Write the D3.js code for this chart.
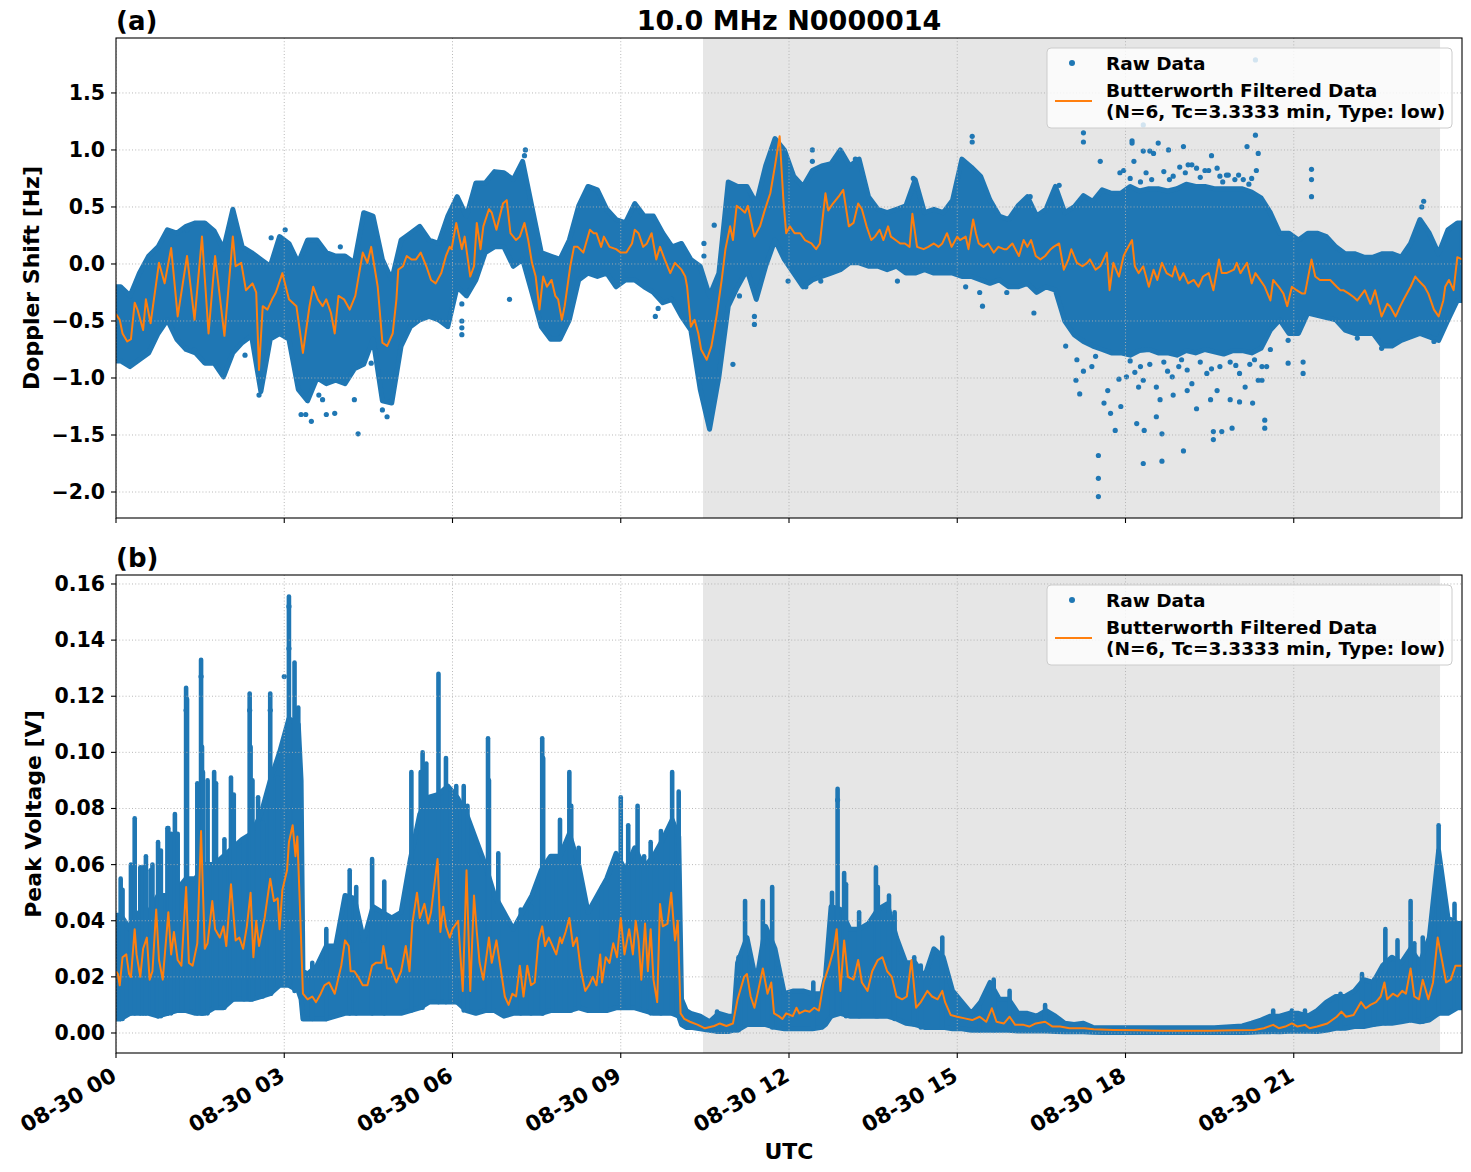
<!DOCTYPE html>
<html>
<head>
<meta charset="utf-8">
<script src="https://cdn.jsdelivr.net/npm/d3@7"></script>
<style>
body { margin: 0; background: white; }
svg text { font-family: "DejaVu Sans", sans-serif; font-weight: bold; fill: black; }
</style>
</head>
<body>
<div id="chart"></div>
<script>
// x axis in minutes after 08-30 00:00 UTC
const tickMinutes = [0, 180, 360, 540, 720, 900, 1080, 1260];
const tickLabels = ["08-30 00", "08-30 03", "08-30 06", "08-30 09", "08-30 12", "08-30 15", "08-30 18", "08-30 21"];
const shadeStart = 628, shadeEnd = 1416.5;

const dopplerTicks = [-2.0, -1.5, -1.0, -0.5, 0.0, 0.5, 1.0, 1.5];
const voltTicks = [0.00, 0.02, 0.04, 0.06, 0.08, 0.10, 0.12, 0.14, 0.16];

// raw data cloud: [minute, low edge, high edge]
const dopplerBand = [[0,-0.85,-0.20],[5,-0.85,-0.20],[15,-0.90,-0.28],[25,-0.84,-0.08],[35,-0.78,0.07],[45,-0.61,0.15],[55,-0.49,0.30],[65,-0.66,0.27],[75,-0.75,0.33],[85,-0.78,0.36],[95,-0.87,0.36],[105,-0.87,0.29],[115,-0.99,0.13],[125,-0.78,0.48],[135,-0.69,0.15],[145,-0.63,0.10],[155,-1.12,0.04],[165,-0.66,-0.02],[175,-0.61,0.24],[185,-0.66,0.18],[195,-1.10,0.01],[205,-1.20,0.21],[215,-1.00,0.21],[225,-1.05,0.10],[235,-1.02,0.07],[245,-1.05,0.07],[255,-0.92,0.01],[265,-0.88,0.45],[275,-0.66,0.42],[285,-1.20,0.04],[295,-1.22,-0.14],[305,-0.72,0.21],[315,-0.55,0.27],[325,-0.49,0.33],[335,-0.46,0.21],[345,-0.49,0.18],[355,-0.55,0.42],[365,-0.20,0.59],[375,-0.28,0.42],[385,-0.14,0.71],[395,0.10,0.71],[405,0.15,0.81],[415,0.15,0.80],[425,-0.02,0.74],[435,0.04,0.90],[445,-0.25,0.50],[455,-0.55,0.10],[465,-0.66,0.07],[475,-0.66,0.04],[485,-0.49,0.21],[495,-0.14,0.51],[505,-0.08,0.68],[515,-0.11,0.65],[525,-0.08,0.48],[535,-0.20,0.39],[545,-0.14,0.36],[555,-0.14,0.53],[565,-0.20,0.42],[575,-0.25,0.42],[585,-0.34,0.27],[595,-0.31,0.15],[605,-0.46,0.18],[615,-0.58,0.04],[625,-1.10,-0.02],[635,-1.45,-0.28],[645,-0.99,-0.08],[655,-0.37,0.72],[665,-0.20,0.68],[675,-0.05,0.68],[685,-0.31,0.53],[695,-0.02,0.86],[705,0.21,1.10],[715,0.04,1.00],[725,-0.08,0.77],[735,-0.20,0.68],[745,-0.14,0.82],[755,-0.11,0.86],[765,-0.08,0.88],[775,-0.05,1.00],[785,0.01,0.86],[795,0.01,0.92],[805,-0.02,0.59],[815,-0.02,0.48],[825,-0.05,0.45],[835,-0.02,0.48],[845,-0.08,0.51],[855,-0.08,0.74],[865,-0.05,0.45],[875,-0.08,0.48],[885,-0.08,0.45],[895,-0.08,0.56],[905,-0.11,0.92],[915,-0.11,0.85],[925,-0.14,0.77],[935,-0.17,0.56],[945,-0.14,0.42],[955,-0.20,0.39],[965,-0.20,0.51],[975,-0.17,0.59],[985,-0.25,0.42],[995,-0.20,0.48],[1005,-0.23,0.68],[1015,-0.50,0.45],[1025,-0.62,0.50],[1035,-0.68,0.60],[1045,-0.72,0.55],[1055,-0.75,0.65],[1065,-0.78,0.62],[1075,-0.78,0.62],[1085,-0.80,0.68],[1095,-0.76,0.64],[1105,-0.75,0.66],[1115,-0.78,0.66],[1125,-0.78,0.64],[1135,-0.80,0.66],[1145,-0.76,0.70],[1155,-0.78,0.68],[1165,-0.75,0.68],[1175,-0.77,0.66],[1185,-0.79,0.66],[1195,-0.76,0.66],[1205,-0.76,0.66],[1215,-0.78,0.63],[1225,-0.74,0.58],[1235,-0.58,0.45],[1245,-0.49,0.27],[1255,-0.61,0.27],[1265,-0.61,0.21],[1275,-0.43,0.27],[1285,-0.45,0.27],[1295,-0.47,0.24],[1305,-0.49,0.15],[1315,-0.58,0.09],[1325,-0.61,0.09],[1335,-0.61,0.06],[1345,-0.61,0.06],[1355,-0.72,0.09],[1365,-0.72,0.09],[1375,-0.67,0.06],[1385,-0.64,0.18],[1395,-0.61,0.39],[1405,-0.64,0.27],[1415,-0.67,0.09],[1425,-0.49,0.30],[1435,-0.32,0.36],[1440,-0.32,0.36]];

const dopplerOutliers = [[75,-0.74],[84,-0.75],[138,-0.80],[153,-1.15],[198,-1.32],[203,-1.32],[209,-1.38],[217,-1.15],[221,-1.19],[225,-1.32],[234,-1.31],[255,-1.19],[259,-1.49],[273,-0.87],[285,-1.28],[290,-1.34],[240,0.15],[166,0.23],[181,0.30],[76,0.30],
  [370,-0.35],[370,-0.50],[370,-0.56],[370,-0.62],[421,-0.31],[438,1.0],[437,0.95],[577,-0.46],[580,-0.39],[594,-0.31],[660,-0.88],[683,-0.46],[683,-0.53],[629,0.18],[629,0.07],[640,0.34],[667,-0.28],[714,0.10],
  [745,1.0],[745,0.90],[791,0.92],[853,0.75],[916,1.12],[916,1.07],[1035,1.15],[1035,1.07],[1053,0.90],[1074,0.80],[1009,0.69],[978,0.59],[927,-0.37],[982,-0.43],[909,-0.20],[953,-0.25],[924,-0.25],[836,-0.15],[754,-0.15],[719,-0.15],[738,-0.20],
  [1016,-0.72],[1028,-0.84],[1027,-1.02],[1031,-1.14],[1035,-0.94],[1044,-0.90],[1048,-0.81],[1057,-1.22],[1061,-1.11],[1064,-1.31],[1069,-1.46],[1073,-1.01],[1075,-1.25],[1051,-1.68],[1051,-1.88],[1051,-2.04],
  [1087,1.08],[1087,1.06],[1099,0.99],[1115,1.06],[1126,1.0],[1142,1.03],[1172,0.95],[1210,1.03],[1219,1.13],[1222,0.97],[1279,0.83],[1279,0.74],[1279,0.59],[1399,0.55],[1397,0.50],[1089,0.90],[1106,0.99],[1110,0.97],[1151,0.87],[1178,0.84],[1190,0.78],[1201,0.78],[1220,0.82],[1144,0.80],[1165,0.82],[1078,0.82],[1219,1.79],[1099,1.22],
  [1096,0.72],[1108,0.74],[1121,0.81],[1131,0.77],[1138,0.85],[1147,0.87],[1156,0.84],[1169,0.82],[1181,0.77],[1188,0.78],[1197,0.74],[1206,0.74],[1215,0.75],[1085,0.75],[1102,0.80],[1127,0.74],[1160,0.76],[1184,0.72],[1212,0.70],
  [1099,-1.75],[1119,-1.73],[1142,-1.64],[1174,-1.47],[1174,-1.54],[1183,-1.47],[1194,-1.44],[1229,-1.37],[1229,-1.44],[1100,-1.46],[1119,-1.49],[1092,-1.40],[1113,-1.34],[1131,-1.15],[1156,-1.27],[1171,-1.19],[1192,-1.19],[1202,-1.21],[1216,-1.22],[1094,-1.08],[1117,-1.19],[1146,-1.11],[1226,-1.02],[1081,-0.99],[1231,-0.90],[1254,-0.67],[1254,-0.87],[1270,-0.86],[1270,-0.96],[1235,-0.75],[1354,-0.74],[1328,-0.65],[1410,-0.68],
  [1085,-0.85],[1096,-0.90],[1106,-0.88],[1121,-0.86],[1130,-0.99],[1137,-0.90],[1146,-0.93],[1160,-0.86],[1167,-0.96],[1181,-0.90],[1192,-0.86],[1202,-0.96],[1213,-0.88],[1222,-1.02],[1226,-0.90],[1099,-1.02],[1113,-1.08],[1151,-1.05],[1178,-1.11],[1208,-1.08],[1090,-0.95],[1125,-0.94],[1140,-0.84],[1172,-0.92],[1198,-0.89],[1218,-0.84]];

const dopplerFiltered = [[0,-0.44],[4,-0.49],[7,-0.61],[12,-0.68],[16,-0.66],[20,-0.34],[23,-0.40],[29,-0.58],[32,-0.31],[37,-0.52],[46,0.01],[52,-0.17],[59,0.14],[66,-0.46],[76,0.07],[84,-0.49],[92,0.24],[99,-0.61],[106,0.07],[116,-0.63],[125,0.24],[128,-0.02],[134,0.01],[139,-0.23],[146,-0.17],[150,-0.25],[153,-0.93],[157,-0.37],[162,-0.40],[167,-0.31],[171,-0.25],[178,-0.08],[185,-0.31],[193,-0.37],[200,-0.78],[207,-0.37],[211,-0.20],[216,-0.31],[221,-0.37],[225,-0.31],[230,-0.43],[234,-0.61],[238,-0.28],[244,-0.31],[250,-0.40],[256,-0.28],[264,0.10],[269,0.01],[273,0.15],[280,-0.20],[285,-0.69],[290,-0.72],[296,-0.61],[300,-0.31],[302,-0.05],[307,-0.02],[311,0.07],[316,0.04],[321,0.04],[326,0.10],[332,-0.02],[337,-0.14],[342,-0.17],[348,-0.08],[353,0.07],[357,0.15],
  [359,0.13],[364,0.36],[370,0.13],[373,0.24],[379,-0.11],[383,-0.02],[386,0.36],[390,0.13],[393,0.33],[399,0.48],[402,0.45],[407,0.30],[414,0.53],[418,0.56],[422,0.27],[428,0.21],[432,0.24],[437,0.36],[441,0.21],[445,0.01],[449,-0.11],[453,-0.40],[457,-0.11],[461,-0.20],[466,-0.14],[470,-0.28],[473,-0.31],[477,-0.49],[480,-0.37],[486,-0.02],[490,0.15],[494,0.15],[500,0.10],[507,0.30],[511,0.27],[514,0.27],[519,0.15],[522,0.24],[528,0.15],[535,0.13],[540,0.10],[546,0.10],[552,0.18],[555,0.30],[559,0.27],[564,0.15],[568,0.18],[573,0.27],[578,0.04],[582,0.15],[587,0.04],[593,-0.08],[598,0.01],[605,-0.05],[609,-0.11],[611,-0.20],[615,-0.55],[619,-0.49],[623,-0.61],[626,-0.75],[630,-0.81],[632,-0.84],[637,-0.72],[640,-0.58],[643,-0.43],[648,-0.14],[652,0.13],[657,0.33],[660,0.21],[664,0.51],[669,0.48],[673,0.45],[676,0.51],[683,0.24],[689,0.33],[694,0.47],[700,0.62],[705,0.86],[710,1.12],[714,0.56],[717,0.27],
  [721,0.33],[726,0.27],[732,0.27],[737,0.21],[744,0.18],[749,0.13],[753,0.18],[759,0.62],[762,0.47],[767,0.53],[773,0.59],[778,0.65],[784,0.33],[789,0.36],[794,0.53],[798,0.48],[803,0.33],[808,0.21],[812,0.24],[817,0.30],[821,0.21],[826,0.33],[829,0.24],[834,0.21],[839,0.18],[844,0.18],[849,0.15],[852,0.44],[857,0.15],[864,0.13],[869,0.15],[875,0.18],[880,0.15],[884,0.18],[889,0.27],[894,0.15],[900,0.24],[903,0.21],[909,0.24],[912,0.13],[917,0.39],[920,0.27],[923,0.18],[928,0.15],[933,0.18],[939,0.10],[944,0.15],[950,0.13],[953,0.13],[959,0.18],[966,0.07],[971,0.21],[975,0.15],[979,0.21],[984,0.07],[989,0.04],[994,0.07],[1000,0.13],[1003,0.15],[1009,0.18],[1014,-0.05],[1019,0.04],[1022,0.13],[1028,0.01],[1034,-0.02],[1039,0.01],[1042,0.04],[1048,-0.05],[1053,-0.02],[1060,0.10],[1063,-0.23],[1067,0.01],[1073,-0.11],[1078,0.07],
  [1081,0.12],[1087,0.21],[1090,-0.02],[1094,-0.08],[1099,-0.02],[1105,-0.20],[1110,-0.05],[1114,-0.14],[1119,0.01],[1124,-0.08],[1130,-0.11],[1133,-0.02],[1138,-0.14],[1142,-0.08],[1147,-0.17],[1153,-0.14],[1158,-0.20],[1163,-0.11],[1169,-0.08],[1174,-0.23],[1180,0.04],[1183,-0.08],[1188,-0.08],[1196,-0.05],[1199,0.01],[1203,-0.08],[1210,0.01],[1215,-0.17],[1219,-0.08],[1224,-0.14],[1229,-0.20],[1235,-0.32],[1238,-0.14],[1244,-0.20],[1249,-0.26],[1253,-0.37],[1258,-0.20],[1263,-0.23],[1269,-0.26],[1272,-0.26],[1279,0.04],[1283,-0.11],[1288,-0.14],[1294,-0.14],[1299,-0.14],[1306,-0.20],[1310,-0.23],[1313,-0.23],[1319,-0.26],[1324,-0.29],[1328,-0.32],[1336,-0.23],[1339,-0.29],[1342,-0.35],[1347,-0.23],[1354,-0.46],[1360,-0.35],[1363,-0.37],[1369,-0.46],[1374,-0.37],[1377,-0.32],[1385,-0.20],[1390,-0.11],[1393,-0.14],[1400,-0.20],[1404,-0.26],[1410,-0.40],[1415,-0.46],[1420,-0.32],[1422,-0.20],[1426,-0.14],[1431,-0.23],[1435,0.06],[1440,0.04]];

const voltBand = [[0,0.005,0.042],[5,0.005,0.042],[15,0.007,0.037],[25,0.007,0.043],[35,0.007,0.043],[45,0.006,0.049],[55,0.007,0.049],[65,0.008,0.051],[75,0.008,0.055],[85,0.007,0.055],[95,0.007,0.060],[105,0.009,0.060],[115,0.009,0.063],[125,0.012,0.066],[135,0.012,0.069],[145,0.012,0.071],[155,0.013,0.078],[165,0.014,0.090],[175,0.017,0.100],[185,0.017,0.112],[195,0.015,0.110],[198,0.012,0.090],[200,0.005,0.022],[205,0.005,0.021],[215,0.005,0.024],[225,0.005,0.031],[235,0.006,0.031],[245,0.007,0.049],[255,0.007,0.048],[265,0.007,0.033],[275,0.007,0.045],[285,0.007,0.043],[295,0.007,0.041],[305,0.007,0.043],[315,0.008,0.062],[325,0.009,0.078],[335,0.011,0.084],[345,0.011,0.085],[355,0.011,0.088],[365,0.011,0.084],[375,0.008,0.078],[385,0.007,0.069],[395,0.008,0.060],[405,0.008,0.049],[415,0.006,0.043],[425,0.007,0.037],[435,0.007,0.043],[445,0.007,0.049],[455,0.007,0.058],[465,0.008,0.063],[475,0.008,0.063],[485,0.008,0.071],[495,0.009,0.060],[505,0.008,0.043],[515,0.008,0.049],[525,0.008,0.055],[535,0.009,0.064],[545,0.009,0.058],[555,0.009,0.066],[565,0.008,0.059],[575,0.007,0.063],[585,0.007,0.069],[595,0.007,0.076],[602,0.006,0.070],[605,0.003,0.012],[610,0.002,0.008],[615,0.002,0.007],[625,0.0015,0.006],[635,0.001,0.004],[645,0.0005,0.007],[655,0.0005,0.006],[661,0.001,0.006],[665,0.001,0.025],[675,0.003,0.034],[685,0.003,0.018],[695,0.003,0.038],[705,0.002,0.030],[715,0.0015,0.014],[725,0.0015,0.015],[735,0.0015,0.015],[745,0.0015,0.014],[755,0.002,0.014],[759,0.003,0.020],[765,0.006,0.045],[775,0.007,0.044],[785,0.006,0.037],[795,0.006,0.037],[805,0.006,0.039],[815,0.006,0.044],[825,0.006,0.046],[835,0.005,0.034],[845,0.0035,0.025],[855,0.003,0.025],[865,0.002,0.020],[875,0.002,0.030],[885,0.002,0.027],[895,0.0015,0.015],[905,0.0015,0.011],[915,0.001,0.007],[925,0.001,0.011],[935,0.001,0.018],[945,0.001,0.012],[955,0.001,0.012],[965,0.0007,0.007],[975,0.0007,0.007],[985,0.0007,0.006],[995,0.0007,0.008],[1005,0.0005,0.006],[1015,0.0004,0.0035],[1025,0.0004,0.003],[1035,0.0004,0.0035],[1045,0.0003,0.002],[1055,0.0002,0.0019],[1095,0.0002,0.0019],[1135,0.0002,0.0019],[1175,0.0002,0.0019],[1205,0.0002,0.0025],[1215,0.0003,0.0035],[1225,0.0004,0.0046],[1235,0.0005,0.006],[1245,0.0004,0.006],[1255,0.0006,0.007],[1265,0.0006,0.007],[1275,0.0006,0.006],[1285,0.0005,0.008],[1295,0.001,0.011],[1305,0.0017,0.013],[1315,0.0017,0.013],[1325,0.0023,0.015],[1335,0.0023,0.019],[1345,0.003,0.018],[1355,0.0035,0.024],[1365,0.0035,0.027],[1375,0.004,0.025],[1385,0.0046,0.030],[1395,0.004,0.025],[1405,0.0046,0.034],[1415,0.007,0.065],[1425,0.007,0.041],[1435,0.009,0.039],[1440,0.009,0.039]];

// narrow columns of raw points rising above the cloud: [minute, top value]
const voltSpikes = [[5,0.055],[7,0.051],[16,0.060],[20,0.0765],[26,0.059],[29,0.059],[32,0.063],[37,0.058],[39,0.060],[45,0.068],[48,0.065],[55,0.073],[56,0.073],[59,0.071],[63,0.078],[66,0.071],[75,0.123],[76,0.119],[87,0.089],[91,0.133],[92,0.102],[93,0.093],[98,0.090],[105,0.093],[107,0.089],[116,0.069],[123,0.091],[126,0.085],[137,0.069],[143,0.121],[144,0.102],[146,0.090],[152,0.084],[157,0.075],[165,0.121],[166,0.094],[173,0.091],[185,0.1555],[191,0.132],[195,0.116],[210,0.025],[225,0.037],[250,0.058],[257,0.052],[274,0.062],[287,0.054],[316,0.093],[326,0.093],[328,0.100],[332,0.096],[345,0.128],[353,0.098],
  [364,0.088],[372,0.088],[376,0.081],[398,0.105],[399,0.090],[409,0.064],[433,0.044],[444,0.045],[456,0.105],[457,0.098],[467,0.063],[475,0.076],[485,0.093],[487,0.081],[495,0.066],[520,0.052],[524,0.053],[540,0.084],[548,0.074],[558,0.081],[565,0.063],[572,0.068],[583,0.072],[595,0.093],[602,0.086],
  [643,0.0076],[666,0.027],[673,0.047],[692,0.047],[702,0.052],[709,0.023],[746,0.018],[766,0.050],[772,0.087],[779,0.057],[781,0.053],[795,0.043],[813,0.059],[815,0.052],[827,0.049],[833,0.043],[854,0.027],[861,0.024],[884,0.034],[924,0.009],[939,0.019],[956,0.015],[994,0.010],[1238,0.008],[1258,0.008],[1272,0.008],[1310,0.014],[1333,0.021],[1346,0.019],[1358,0.037],[1371,0.033],[1385,0.047],[1389,0.032],[1398,0.034],[1415,0.074],[1432,0.046],[1436,0.039]];

const voltOutliers = [[185,0.152],[185,0.137],[180,0.127],[91,0.127],[75,0.115],[143,0.115],[165,0.115],[772,0.083]];

const voltFiltered = [[0,0.022],[2,0.021],[4,0.017],[7,0.027],[11,0.028],[14,0.021],[16,0.020],[20,0.037],[22,0.028],[26,0.020],[29,0.030],[33,0.034],[36,0.019],[39,0.022],[43,0.044],[46,0.026],[50,0.019],[56,0.043],[59,0.028],[62,0.036],[66,0.026],[70,0.024],[75,0.052],[78,0.025],[82,0.024],[87,0.032],[91,0.072],[95,0.030],[98,0.032],[103,0.047],[106,0.037],[111,0.034],[115,0.038],[118,0.031],[123,0.053],[128,0.033],[132,0.034],[136,0.030],[140,0.038],[144,0.050],[147,0.027],[150,0.040],[153,0.031],[159,0.041],[165,0.055],[169,0.047],[173,0.048],[175,0.037],[178,0.051],[183,0.058],[185,0.068],[189,0.074],[192,0.063],[194,0.070],[197,0.043],[200,0.014],[205,0.012],[210,0.013],[214,0.011],[219,0.014],[223,0.017],[228,0.018],[234,0.014],[241,0.024],[245,0.033],[249,0.031],[251,0.022],[255,0.022],[259,0.020],[264,0.017],[269,0.017],[274,0.024],[278,0.025],[284,0.025],[286,0.031],[290,0.023],[294,0.023],[300,0.018],[305,0.022],[310,0.031],[314,0.022],[317,0.039],[322,0.050],[325,0.041],[330,0.046],[334,0.039],[337,0.043],[344,0.062],[347,0.036],[350,0.045],[353,0.038],[357,0.034],
  [360,0.037],[366,0.040],[371,0.015],[375,0.058],[379,0.015],[383,0.049],[386,0.036],[389,0.025],[393,0.019],[399,0.034],[402,0.025],[407,0.033],[411,0.024],[416,0.013],[420,0.010],[424,0.014],[428,0.013],[432,0.024],[436,0.013],[440,0.024],[444,0.017],[448,0.018],[452,0.033],[456,0.038],[459,0.031],[463,0.034],[467,0.031],[471,0.028],[475,0.034],[477,0.032],[481,0.036],[485,0.041],[489,0.031],[493,0.034],[497,0.023],[502,0.015],[506,0.017],[510,0.020],[514,0.017],[518,0.028],[520,0.018],[524,0.027],[528,0.025],[532,0.032],[536,0.027],[540,0.041],[544,0.028],[549,0.037],[553,0.028],[556,0.040],[559,0.033],[562,0.019],[566,0.039],[569,0.022],[572,0.037],[575,0.019],[579,0.011],[582,0.046],[585,0.038],[590,0.039],[594,0.050],[598,0.033],[601,0.040],[604,0.007],[608,0.005],[614,0.004],[622,0.003],[628,0.002],
  [630,0.0017],[640,0.0025],[646,0.0034],[653,0.0025],[660,0.0034],[665,0.012],[672,0.020],[675,0.021],[679,0.013],[683,0.009],[687,0.015],[692,0.023],[697,0.014],[701,0.018],[704,0.007],[709,0.006],[713,0.005],[717,0.007],[724,0.006],[728,0.009],[731,0.007],[737,0.008],[742,0.0076],[747,0.009],[752,0.008],[757,0.018],[763,0.024],[768,0.030],[771,0.037],[775,0.015],[779,0.033],[783,0.020],[789,0.019],[794,0.026],[798,0.018],[804,0.015],[809,0.022],[815,0.026],[820,0.027],[825,0.022],[830,0.020],[835,0.013],[841,0.012],[846,0.013],[851,0.026],[856,0.009],[861,0.011],[868,0.015],[873,0.013],[879,0.012],[884,0.015],[887,0.011],[893,0.0064],[900,0.0058],[908,0.0052],[916,0.0046],[924,0.0058],[931,0.004],[937,0.0088],[942,0.004],[950,0.0034],[956,0.0058],[962,0.0029],[971,0.0029],[977,0.0023],[984,0.0034],[994,0.004],[1002,0.0023],[1010,0.0023],[1020,0.0017],[1036,0.0017],[1046,0.0013],[1067,0.0011],[1093,0.001],[1119,0.0008],[1145,0.0008],[1171,0.0008],[1197,0.001],[1218,0.0011],[1228,0.0017],[1238,0.0029],[1244,0.0017],[1251,0.0023],[1258,0.0034],[1264,0.0023],[1272,0.0029],[1277,0.0017],[1285,0.0023],[1296,0.0034],[1306,0.0058],[1311,0.0076],[1316,0.0058],[1324,0.0064],[1332,0.011],[1337,0.0088],[1342,0.010],[1348,0.011],[1353,0.013],[1357,0.018],[1360,0.012],[1366,0.014],[1371,0.013],[1376,0.015],[1380,0.014],[1385,0.023],[1389,0.013],[1394,0.012],[1398,0.019],[1404,0.012],[1409,0.018],[1414,0.034],[1418,0.027],[1423,0.018],[1428,0.019],[1433,0.024],[1440,0.024]];

const blue = "#1f77b4", orange = "#ff7f0e";
const plotLeft = 116, plotRight = 1462;
const x = d3.scaleLinear().domain([0, 1440]).range([plotLeft, plotRight]);

class SeriesPanel {
    constructor(svg, cfg) {
        this.svg = svg;
        this.cfg = cfg;
        this.y = d3.scaleLinear().domain(cfg.domain).range([cfg.bottom, cfg.top]);
        this.render();
    }

    render() {
        const cfg = this.cfg, y = this.y, svg = this.svg;
        const clipId = "clip-" + cfg.id;
        svg.append("clipPath").attr("id", clipId).append("rect")
            .attr("x", plotLeft).attr("y", cfg.top)
            .attr("width", plotRight - plotLeft).attr("height", cfg.bottom - cfg.top);

        const g = svg.append("g").attr("clip-path", "url(#" + clipId + ")");

        g.append("rect")
            .attr("x", x(shadeStart)).attr("y", cfg.top)
            .attr("width", x(shadeEnd) - x(shadeStart)).attr("height", cfg.bottom - cfg.top)
            .attr("fill", "#e6e6e6");

        const area = d3.area()
            .x(d => x(d[0]))
            .y0(d => y(d[1]))
            .y1(d => y(d[2]));
        g.append("path").datum(cfg.band)
            .attr("d", area)
            .attr("fill", blue)
            .attr("stroke", blue)
            .attr("stroke-width", 5)
            .attr("stroke-linejoin", "round");

        const nearest = d3.bisector(d => d[0]).center;
        g.selectAll("line.spike")
            .data(cfg.spikes)
            .join("line")
            .attr("class", "spike")
            .attr("x1", d => x(d[0])).attr("x2", d => x(d[0]))
            .attr("y1", d => y(cfg.band[nearest(cfg.band, d[0])][1]))
            .attr("y2", d => y(d[1]))
            .attr("stroke", blue)
            .attr("stroke-width", 4.6)
            .attr("stroke-linecap", "round");

        g.selectAll("circle.raw")
            .data(cfg.outliers)
            .join("circle")
            .attr("class", "raw")
            .attr("cx", d => x(d[0]))
            .attr("cy", d => y(d[1]))
            .attr("r", 2.6)
            .attr("fill", blue);

        // grid sits above the scatter, below the filtered line
        const grid = g.append("g")
            .attr("stroke", "#b0b0b0").attr("stroke-width", 0.9).attr("stroke-dasharray", "1,2.2");
        grid.selectAll("line.gx").data(tickMinutes).join("line")
            .attr("x1", d => x(d)).attr("x2", d => x(d))
            .attr("y1", cfg.top).attr("y2", cfg.bottom);
        grid.selectAll("line.gy").data(cfg.ticks).join("line")
            .attr("x1", plotLeft).attr("x2", plotRight)
            .attr("y1", d => y(d)).attr("y2", d => y(d));

        g.append("path").datum(cfg.filtered)
            .attr("d", d3.line().x(d => x(d[0])).y(d => y(d[1])))
            .attr("fill", "none")
            .attr("stroke", orange)
            .attr("stroke-width", 2)
            .attr("stroke-linejoin", "round");

        svg.append("rect")
            .attr("x", plotLeft).attr("y", cfg.top)
            .attr("width", plotRight - plotLeft).attr("height", cfg.bottom - cfg.top)
            .attr("fill", "none").attr("stroke", "black").attr("stroke-width", 1.1);

        svg.append("g").selectAll("line").data(tickMinutes).join("line")
            .attr("x1", d => x(d)).attr("x2", d => x(d))
            .attr("y1", cfg.bottom).attr("y2", cfg.bottom + 5)
            .attr("stroke", "black").attr("stroke-width", 1.1);

        svg.append("g").selectAll("line").data(cfg.ticks).join("line")
            .attr("x1", plotLeft - 5).attr("x2", plotLeft)
            .attr("y1", d => y(d)).attr("y2", d => y(d))
            .attr("stroke", "black").attr("stroke-width", 1.1);

        svg.append("g").selectAll("text").data(cfg.ticks).join("text")
            .attr("x", plotLeft - 11)
            .attr("y", d => y(d))
            .attr("text-anchor", "end")
            .attr("dominant-baseline", "central")
            .style("font-size", "20.5px")
            .text(d => cfg.format(d).replace("-", "\u2212"));

        svg.append("text")
            .attr("transform", "translate(" + cfg.labelX + "," + ((cfg.top + cfg.bottom) / 2) + ") rotate(-90)")
            .attr("text-anchor", "middle")
            .attr("dominant-baseline", "central")
            .style("font-size", "22px")
            .text(cfg.label);

        svg.append("text")
            .attr("x", plotLeft).attr("y", cfg.top - 8)
            .style("font-size", "26px")
            .text(cfg.letter);

        this.renderLegend();
    }

    renderLegend() {
        const lx = 1047, ly = this.cfg.top + 10;
        const lg = this.svg.append("g");
        lg.append("rect")
            .attr("x", lx).attr("y", ly).attr("width", 405).attr("height", 80).attr("rx", 4)
            .attr("fill", "white").attr("fill-opacity", 0.8)
            .attr("stroke", "#cccccc").attr("stroke-width", 1);
        lg.append("circle").attr("cx", lx + 25).attr("cy", ly + 15).attr("r", 3).attr("fill", blue);
        lg.append("line")
            .attr("x1", lx + 8).attr("x2", lx + 45).attr("y1", ly + 53).attr("y2", ly + 53)
            .attr("stroke", orange).attr("stroke-width", 2);
        const rows = [["Raw Data", 15], ["Butterworth Filtered Data", 42], ["(N=6, Tc=3.3333 min, Type: low)", 63]];
        lg.selectAll("text").data(rows).join("text")
            .attr("x", lx + 59).attr("y", d => ly + d[1])
            .attr("dominant-baseline", "central")
            .style("font-size", "18.5px")
            .text(d => d[0]);
    }
}

const svg = d3.select("#chart").append("svg")
    .attr("width", 1471).attr("height", 1172)
    .style("background-color", "white");

new SeriesPanel(svg, {
    id: "a", letter: "(a)", top: 38, bottom: 518,
    domain: [-2.228, 1.982], ticks: dopplerTicks, format: d3.format(".1f"),
    label: "Doppler Shift [Hz]", labelX: 31,
    band: dopplerBand, spikes: [], outliers: dopplerOutliers, filtered: dopplerFiltered
});

new SeriesPanel(svg, {
    id: "b", letter: "(b)", top: 575, bottom: 1053,
    domain: [-0.00713, 0.1632], ticks: voltTicks, format: d3.format(".2f"),
    label: "Peak Voltage [V]", labelX: 33,
    band: voltBand, spikes: voltSpikes, outliers: voltOutliers, filtered: voltFiltered
});

svg.append("text")
    .attr("x", x(720)).attr("y", 30)
    .attr("text-anchor", "middle")
    .style("font-size", "27px")
    .text("10.0 MHz N0000014");

svg.append("g").selectAll("text").data(tickMinutes).join("text")
    .attr("transform", (d, i) => "translate(" + (x(d) - 6) + "," + 1066 + ") rotate(-30)")
    .attr("text-anchor", "end")
    .attr("dominant-baseline", "hanging")
    .style("font-size", "21.5px")
    .text((d, i) => tickLabels[i]);

svg.append("text")
    .attr("x", x(720)).attr("y", 1151)
    .attr("text-anchor", "middle")
    .attr("dominant-baseline", "central")
    .style("font-size", "22px")
    .text("UTC");
</script>
</body>
</html>
